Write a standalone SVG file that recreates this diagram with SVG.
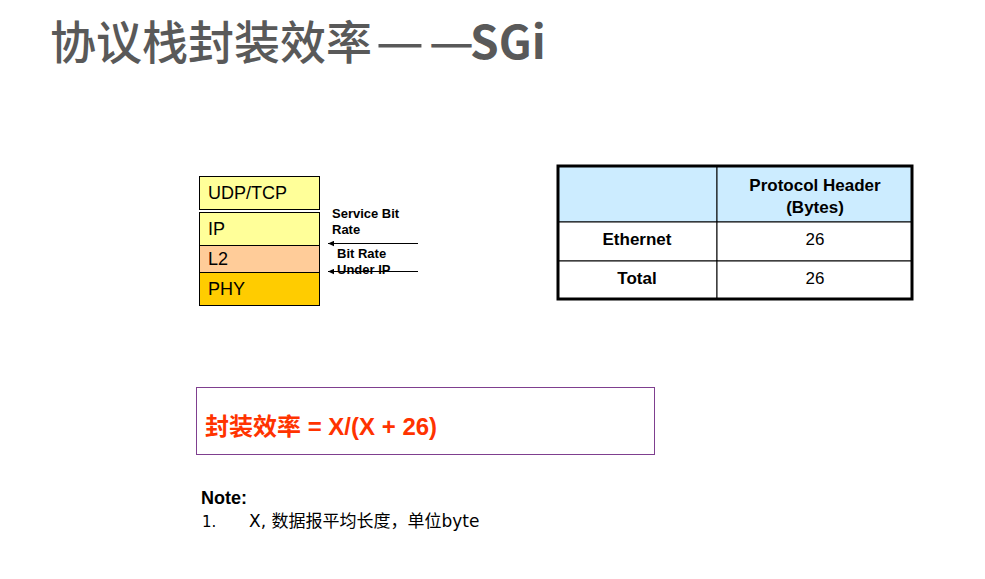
<svg xmlns="http://www.w3.org/2000/svg" width="985" height="579" viewBox="0 0 985 579">
  <defs>
    <marker id="arrow" viewBox="0 0 10 10" refX="10" refY="5" markerWidth="7" markerHeight="6" orient="auto" markerUnits="userSpaceOnUse">
      <path d="M10,5 L0,0.5 L0,9.5 Z" fill="#000"/>
    </marker>
  </defs>
  <style>
    .title { font-family: "Noto Sans CJK SC", "Noto Sans", sans-serif; font-size: 46px; font-weight: 500; fill: #595959; }
    .title-latin { font-weight: bold; }
    .layer { stroke: #000; stroke-width: 1; }
    .layer-text { font-family: "Liberation Sans", Arial, sans-serif; font-size: 18px; fill: #000; }
    .small-bold { font-family: "Liberation Sans", Arial, sans-serif; font-size: 13px; font-weight: bold; fill: #000; }
    .cell { fill: #fff; stroke: #000; stroke-width: 1; }
    .th { font-family: "Liberation Sans", Arial, sans-serif; font-size: 17px; font-weight: bold; fill: #000; text-anchor: middle; }
    .td { font-family: "Liberation Sans", Arial, sans-serif; font-size: 17px; fill: #000; text-anchor: middle; }
    .formula { font-family: "Liberation Sans", "Noto Sans CJK SC", sans-serif; font-size: 24px; font-weight: bold; fill: #FF3300; }
    .note { font-family: "DejaVu Sans", "Noto Sans CJK SC", sans-serif; fill: #000; }
    .note-head { font-family: "Liberation Sans", Arial, sans-serif; font-size: 18px; font-weight: bold; fill: #000; }
  </style>

  <rect width="985" height="579" fill="#fff"/>

  <text class="title" y="59"><tspan x="50">协议栈封装效率</tspan><tspan x="376" textLength="48" lengthAdjust="spacingAndGlyphs">—</tspan><tspan x="429" textLength="45" lengthAdjust="spacingAndGlyphs">—</tspan><tspan x="470" class="title-latin">SGi</tspan></text>

  <!-- protocol stack -->
  <g id="udp-tcp">
    <rect class="layer" x="199.5" y="176.5" width="120" height="33" fill="#FFFF99"/>
    <text class="layer-text" x="208" y="199">UDP/TCP</text>
  </g>
  <g id="ip">
    <rect class="layer" x="199.5" y="212.5" width="120" height="33" fill="#FFFF99"/>
    <text class="layer-text" x="208" y="235">IP</text>
  </g>
  <g id="l2">
    <rect class="layer" x="199.5" y="245.5" width="120" height="27" fill="#FFCC99"/>
    <text class="layer-text" x="208" y="265">L2</text>
  </g>
  <g id="phy">
    <rect class="layer" x="199.5" y="272.5" width="120" height="33" fill="#FFCC00"/>
    <text class="layer-text" x="208" y="295">PHY</text>
  </g>

  <g id="labels">
    <text class="small-bold" x="332" y="218">Service Bit</text>
    <text class="small-bold" x="332" y="234">Rate</text>
    <text class="small-bold" x="337" y="258">Bit Rate</text>
    <text class="small-bold" x="337" y="274">Under IP</text>
  </g>

  <g id="connectors" stroke="#000" stroke-width="1" fill="none">
    <line x1="418" y1="243.5" x2="328" y2="243.5" marker-end="url(#arrow)"/>
    <line x1="418" y1="271.5" x2="328" y2="271.5" marker-end="url(#arrow)"/>
  </g>

  <!-- header size table -->
  <g id="table">
    <rect x="558" y="166" width="159" height="56" fill="#CCECFF" stroke="#000"/>
    <rect x="717" y="166" width="195" height="56" fill="#CCECFF" stroke="#000"/>
    <rect class="cell" x="558" y="222" width="159" height="39"/>
    <rect class="cell" x="717" y="222" width="195" height="39"/>
    <rect class="cell" x="558" y="261" width="159" height="38"/>
    <rect class="cell" x="717" y="261" width="195" height="38"/>
    <rect x="558" y="166" width="354" height="133" fill="none" stroke="#000" stroke-width="3"/>
    <text class="th" x="815" y="191">Protocol Header</text>
    <text class="th" x="815" y="213">(Bytes)</text>
    <text class="th" x="637" y="245">Ethernet</text>
    <text class="td" x="815" y="245">26</text>
    <text class="th" x="637" y="284">Total</text>
    <text class="td" x="815" y="284">26</text>
  </g>

  <g id="formula">
    <rect x="196.5" y="387.5" width="458" height="67" fill="#fff" stroke="#7F3F8F" stroke-width="1"/>
    <text class="formula" x="205" y="435">封装效率 = X/(X + 26)</text>
  </g>

  <g id="note">
    <text class="note-head" x="201" y="504">Note:</text>
    <text class="note" x="202" y="527" font-size="15">1.</text>
    <text class="note" x="249" y="527" font-size="17">X, 数据报平均长度，单位byte</text>
  </g>
</svg>
